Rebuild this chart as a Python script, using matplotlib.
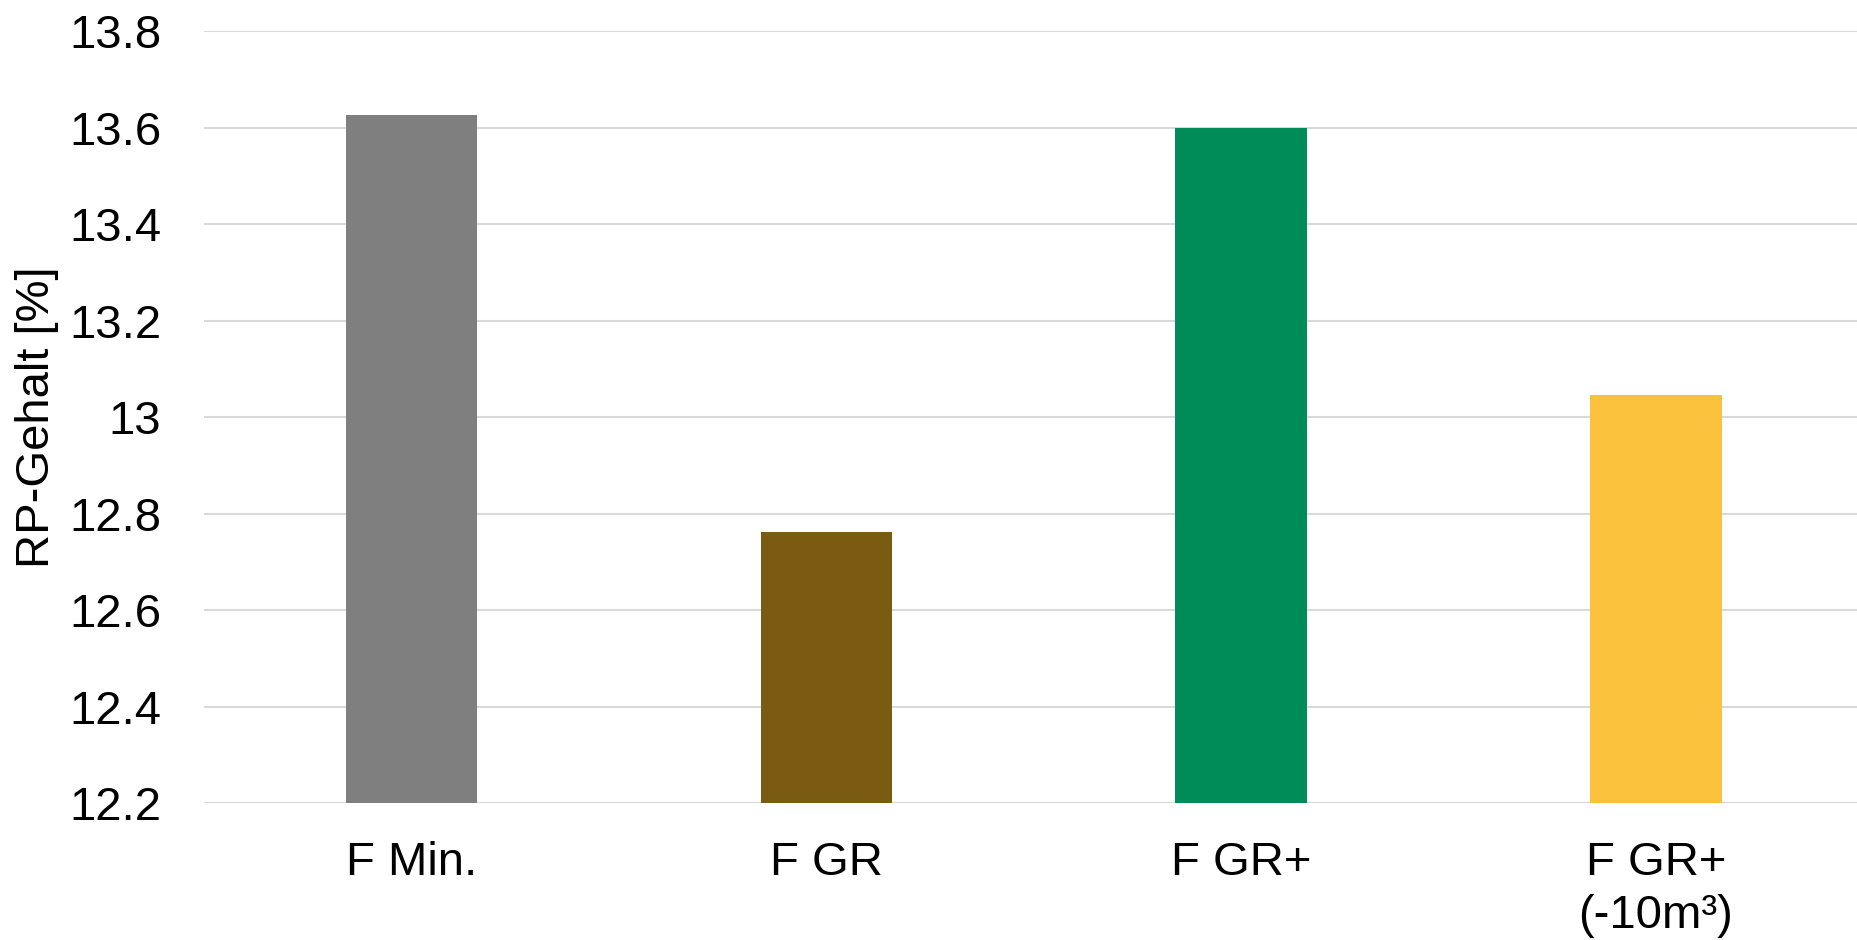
import matplotlib.pyplot as plt

plt.rcParams['font.family'] = ['Liberation Sans', 'DejaVu Sans']

# RP content per variant
categories = ['F Min.', 'F GR', 'F GR+', 'F GR+\n(-10m³)']
rp_content = [13.625, 12.762, 13.60, 13.046]
bar_colors = ['#7f7f7f', '#7b5b12', '#008c58', '#fac23c']
y_ticks = [12.2, 12.4, 12.6, 12.8, 13.0, 13.2, 13.4, 13.6, 13.8]
y_tick_labels = ['12.2', '12.4', '12.6', '12.8', '13', '13.2', '13.4', '13.6', '13.8']

fig = plt.figure(figsize=(18.57, 9.40), dpi=100)
ax = fig.add_axes([0.110, 0.1457, 0.8933, 0.8213])

x = range(len(categories))
ax.bar(x, [v - 12.2 for v in rp_content], bottom=12.2, width=0.317,
       color=bar_colors, zorder=3)

ax.set_xlim(-0.5, len(categories) - 0.5)
ax.set_ylim(12.2, 13.8)
ax.set_yticks(y_ticks)
ax.set_yticklabels(y_tick_labels)
ax.set_xticks(list(x))
ax.set_xticklabels(categories, linespacing=1.28)

ax.grid(axis='y', color='#d9d9d9', linewidth=1.5, zorder=0)
ax.set_axisbelow(True)
for side in ['top', 'right', 'left', 'bottom']:
    ax.spines[side].set_visible(False)
ax.axhline(12.2, color='#d9d9d9', linewidth=1.5, zorder=1)

ax.tick_params(axis='y', length=0, pad=31, labelsize=34)
ax.tick_params(axis='x', length=0, pad=27, labelsize=34)
ax.set_ylabel('RP-Gehalt [%]', fontsize=34, labelpad=7)

fig.savefig('out.png', dpi=100)
